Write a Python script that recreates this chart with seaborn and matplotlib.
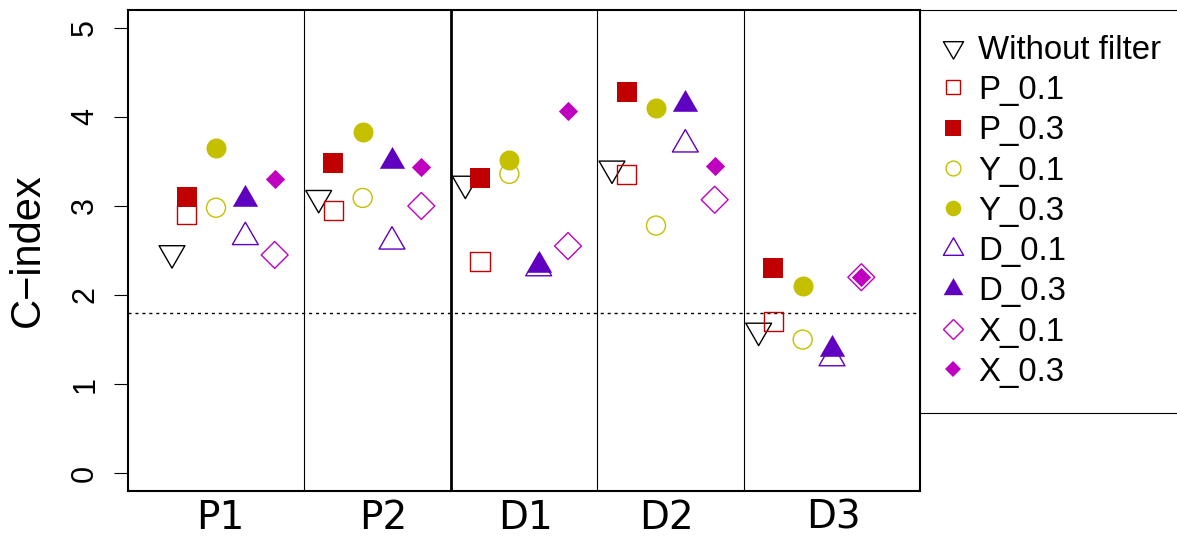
import numpy as np
import pandas as pd
import matplotlib
matplotlib.use("Agg")
import matplotlib.pyplot as plt
from matplotlib.lines import Line2D
from matplotlib.path import Path
import seaborn as sns

# ---------------- data ----------------
groups = ["P1", "P2", "D1", "D2", "D3"]
group_label_pos = [0.93, 2.04, 3.01, 3.97, 5.11]
series = ["Without filter", "P_0.1", "P_0.3", "Y_0.1", "Y_0.3",
          "D_0.1", "D_0.3", "X_0.1", "X_0.3"]
without = [2.47, 3.09, 3.25, 3.42, 1.60]
p01 = [2.90, 2.95, 2.38, 3.35, 1.70]
p03 = [3.10, 3.48, 3.31, 4.28, 2.30]
y01 = [2.98, 3.09, 3.36, 2.78, 1.50]
y03 = [3.65, 3.83, 3.52, 4.10, 2.10]
d01 = [2.65, 2.60, 2.30, 3.69, 1.29]
d03 = [3.08, 3.50, 2.34, 4.14, 1.39]
x01 = [2.45, 3.00, 2.55, 3.07, 2.20]
x03 = [3.30, 3.44, 4.07, 3.45, 2.20]
offsets = [-0.4, -0.3, -0.3, -0.1, -0.1, 0.1, 0.1, 0.3, 0.3]
threshold = 1.8
yticks = [0, 1, 2, 3, 4, 5]

values = [without, p01, p03, y01, y03, d01, d03, x01, x03]

# ---------------- styles ----------------
tri_down = Path([(0, -1), (0.866, 0.5), (-0.866, 0.5), (0, -1)], closed=True)
tri_up = Path([(0, 1), (0.866, -0.5), (-0.866, -0.5), (0, 1)], closed=True)
RED, OLIVE, PURPLE, MAG = "#C00000", "#C4C000", "#6000C0", "#C000C0"
# (marker, color, filled, markersize in pt)
styles = [
    (tri_down, "black", False, 21.5),
    ("s", RED, False, 13.7),
    ("s", RED, True, 14.8),
    ("o", OLIVE, False, 13.7),
    ("o", OLIVE, True, 14.4),
    (tri_up, PURPLE, False, 21.5),
    (tri_up, PURPLE, True, 21.0),
    ("D", MAG, False, 13.7),
    ("D", MAG, True, 9.8),
]

sns.set_style("white")
plt.rcParams["font.family"] = ["Liberation Sans", "DejaVu Sans"]
plt.rcParams["axes.linewidth"] = 1.5
for k in ["text.color", "axes.labelcolor", "xtick.color", "ytick.color",
          "axes.edgecolor"]:
    plt.rcParams[k] = "black"

fig = plt.figure(figsize=(11.77, 5.44), dpi=100)
ax = fig.add_axes([128 / 1177, 1 - 491 / 544, (920 - 128) / 1177, (491 - 10) / 544])

gx = np.arange(1, len(groups) + 1)
for name, vals, off, (mk, col, filled, ms) in zip(series, values, offsets, styles):
    df = pd.DataFrame({"x": gx + off, "y": vals})
    if filled:
        sns.scatterplot(data=df, x="x", y="y", marker=mk, s=ms ** 2,
                        facecolor=col, edgecolor=col, linewidth=0, ax=ax, zorder=3)
    else:
        sns.scatterplot(data=df, x="x", y="y", marker=mk, s=ms ** 2,
                        facecolor="none", edgecolor=col, linewidth=1.0, ax=ax, zorder=3)

# separators
for b in gx[:-1] + 0.5:
    ax.axvline(b, color="black", lw=2.0 if b == 2.5 else 0.8, zorder=1)
ax.axhline(threshold, color="black", lw=1.0, ls=(0, (2.2, 2.8)), zorder=1)

ax.set_xlim(0.3, 5.7)
ax.set_ylim(-0.2, 5.2)
ax.set_yticks(yticks)
ax.set_yticklabels([str(t) for t in yticks], rotation=90, va="center")
ax.set_xticks(group_label_pos)
ax.set_xticklabels(groups, family="DejaVu Sans", fontsize=28)
ax.tick_params(axis="x", length=0, pad=5.5)
ax.tick_params(axis="y", length=10, width=0.8, direction="out", labelsize=22,
               pad=10, left=True)
ax.set_xlabel("")
ax.set_ylabel("C\u2212index", fontsize=30, va="center")
ax.yaxis.set_label_coords(-100 / 792, 0.5)
for s in ax.spines.values():
    s.set_visible(True)
    s.set_color("black")
    s.set_linewidth(1.5)

# legend
handles = []
for mk, col, filled, ms in styles:
    handles.append(Line2D([], [], linestyle="none", marker=mk, markersize=ms * 0.78,
                          markerfacecolor=col if filled else "none",
                          markeredgecolor=col,
                          markeredgewidth=0 if filled else 1.0))
leg = ax.legend(handles, series, loc="upper left", bbox_to_anchor=(1.0, 1.0),
                borderaxespad=0, frameon=True, fancybox=False, framealpha=1,
                edgecolor="black", fontsize=23.8, borderpad=0.75, labelspacing=0.28,
                handlelength=0.52, handletextpad=0.49)
leg.get_frame().set_linewidth(0.8)

fig.savefig("out.png", dpi=100)
